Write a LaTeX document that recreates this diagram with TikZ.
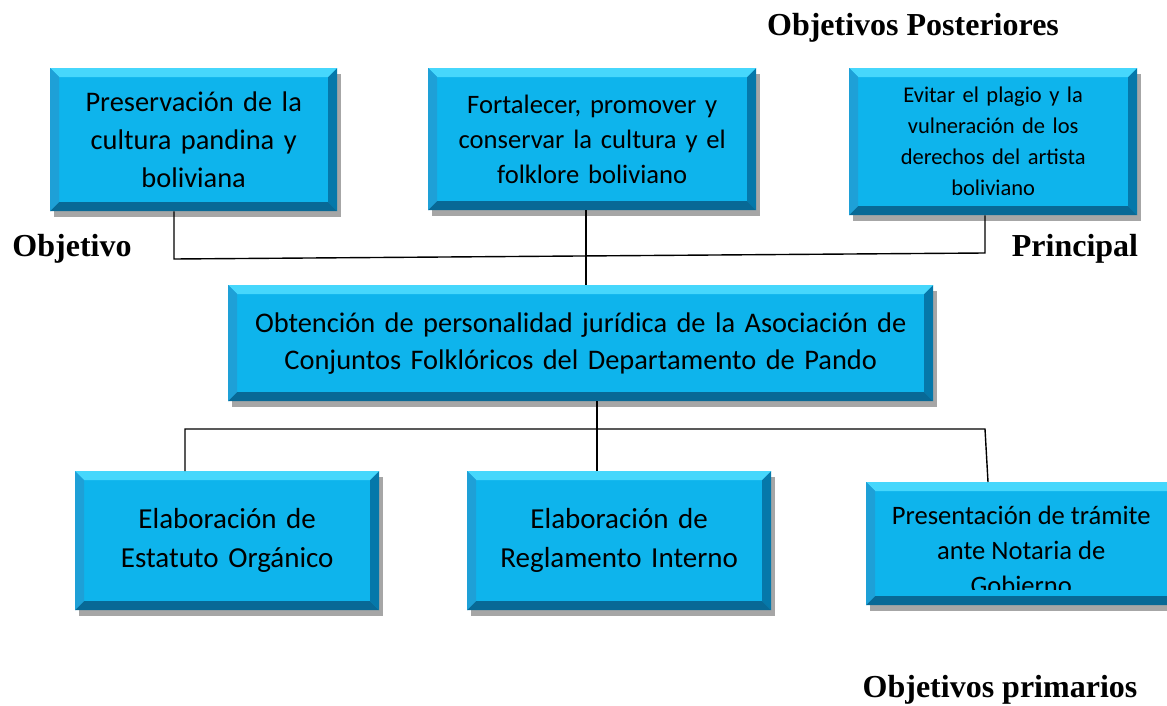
\documentclass[tikz,border=0pt]{standalone}
\usepackage{fontspec}
\setmainfont{Liberation Serif}
\newfontfamily\calibri{Carlito}
\usetikzlibrary{shadows}

\definecolor{boxblue}{RGB}{14,180,236}
\definecolor{bevtop}{RGB}{70,215,252}
\definecolor{bevleft}{RGB}{30,160,215}
\definecolor{bevright}{RGB}{5,120,170}
\definecolor{bevbottom}{RGB}{8,105,150}

\tikzset{
	obox/.style={rectangle, anchor=north west, fill=boxblue, align=center,
		inner sep=0pt, font=\calibri,
		drop shadow={shadow xshift=4pt, shadow yshift=-6pt, opacity=.35, fill=black},
		path picture={
			% bevelled edges
			\fill[bevtop] (path picture bounding box.north west) -- (path picture bounding box.north east)
				-- ([shift={(-9pt,-9pt)}]path picture bounding box.north east)
				-- ([shift={(9pt,-9pt)}]path picture bounding box.north west) -- cycle;
			\fill[bevleft] (path picture bounding box.north west) -- (path picture bounding box.south west)
				-- ([shift={(9pt,9pt)}]path picture bounding box.south west)
				-- ([shift={(9pt,-9pt)}]path picture bounding box.north west) -- cycle;
			\fill[bevright] (path picture bounding box.north east) -- (path picture bounding box.south east)
				-- ([shift={(-9pt,9pt)}]path picture bounding box.south east)
				-- ([shift={(-9pt,-9pt)}]path picture bounding box.north east) -- cycle;
			\fill[bevbottom] (path picture bounding box.south west) -- (path picture bounding box.south east)
				-- ([shift={(-9pt,9pt)}]path picture bounding box.south east)
				-- ([shift={(9pt,9pt)}]path picture bounding box.south west) -- cycle;
		}},
	lbl/.style={font=\bfseries\fontsize{32}{34}\selectfont},
	conn/.style={draw=black, line width=1.4pt}
}

\begin{document}
\begin{tikzpicture}[x=1pt, y=-1pt]
	\useasboundingbox[fill=white] (0,0) rectangle (1167,706);

		%top row
	\node[obox, minimum width=287pt, minimum height=143pt, text width=287pt,
		font=\calibri\fontsize{28.4}{38}\selectfont] (pres) at (50,68)
		{Preservación de la\\cultura pandina y\\boliviana};
	\node[obox, minimum width=328pt, minimum height=142pt, text width=328pt,
		font=\calibri\fontsize{26.6}{35}\selectfont] (fort) at (428,68)
		{Fortalecer, promover y\\conservar la cultura y el\\folklore boliviano};
	\node[obox, minimum width=288pt, minimum height=147pt, text width=288pt,
		font=\calibri\fontsize{22.5}{31}\selectfont] (evit) at (849,68)
		{Evitar el plagio y la\\vulneración de los\\derechos del artista\\boliviano};

		%middle
	\node[obox, minimum width=705pt, minimum height=116pt, text width=705pt,
		font=\calibri\fontsize{28.4}{37}\selectfont] (cen) at (228,285)
		{Obtención de personalidad jurídica de la Asociación de\\Conjuntos Folklóricos del Departamento de Pando};

		%bottom row
	\node[obox, minimum width=304pt, minimum height=139pt, text width=304pt,
		font=\calibri\fontsize{29}{39}\selectfont] (elab1) at (75,471)
		{Elaboración de\\Estatuto Orgánico};
	\node[obox, minimum width=304pt, minimum height=139pt, text width=304pt,
		font=\calibri\fontsize{29}{39}\selectfont] (elab2) at (467,471)
		{Elaboración de\\Reglamento Interno};
	\node[obox, minimum width=310pt, minimum height=123pt] (notaria) at (866,482) {};
	\begin{scope}
		\clip (notaria.north west) rectangle ([yshift=16pt]notaria.south east);
		\node[align=center, font=\calibri\fontsize{26.6}{35}\selectfont] (notext) at ([yshift=-7pt]notaria.center)
			{Presentación de trámite\\ante Notaria de\\Gobierno};
	\end{scope}

		%connectors
	\coordinate (jl) at (174,259);
	\coordinate (jr) at (985,253);
	\coordinate (jm) at (586,256);
	\coordinate (kl) at (185,429);
	\coordinate (km) at (597,429);
	\coordinate (kr) at (985,429);
	\draw[conn] (pres.south -| jl) -- (jl) -- (jr) -- (evit.south -| jr);
	\draw[conn] (fort.south -| jm) -- (cen.north -| jm);
	\draw[conn] (cen.south -| km) -- (elab2.north -| km);
	\draw[conn] (elab1.north -| kl) -- (kl) -- (kr) -- ([xshift=3pt]notaria.north -| kr);

		%labels
	\node[lbl] (post) at (913,28) {Objetivos Posteriores};
	\node[lbl] (obj) at (72,249) {Objetivo};
	\node[lbl] (princ) at (1075,249) {Principal};
	\node[lbl] (prim) at (1000,690) {Objetivos primarios};
\end{tikzpicture}
\end{document}
